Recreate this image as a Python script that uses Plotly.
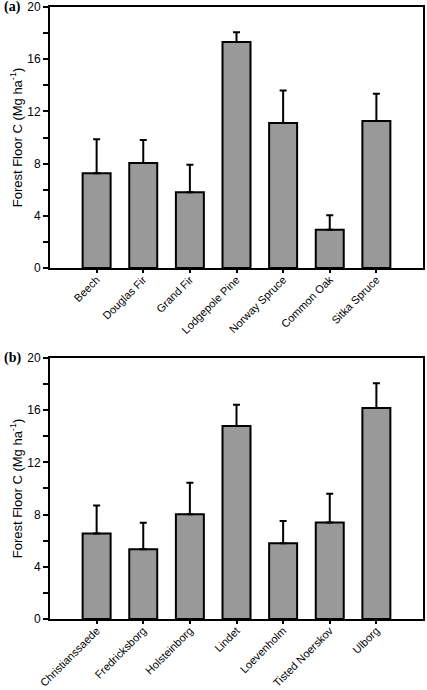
import plotly.graph_objects as go
from plotly.subplots import make_subplots

species = ["Beech", "Douglas Fir", "Grand Fir", "Lodgepole Pine", "Norway Spruce", "Common Oak", "Sitka Spruce"]
species_c = [7.26, 8.05, 5.80, 17.32, 11.11, 2.94, 11.26]
species_err = [2.60, 1.76, 2.12, 0.74, 2.49, 1.10, 2.10]

sites = ["Christianssaede", "Fredricksborg", "Holsteinborg", "Lindet", "Loevenholm", "Tisted Noerskov", "Ulborg"]
sites_c = [6.55, 5.35, 8.03, 14.79, 5.81, 7.39, 16.17]
sites_err = [2.15, 2.02, 2.41, 1.63, 1.69, 2.20, 1.89]

y_ticks = [0, 4, 8, 12, 16, 20]

fig = make_subplots(rows=2, cols=1, vertical_spacing=0.147)

def add_panel(cats, vals, errs, row):
    fig.add_trace(go.Bar(
        x=cats, y=vals, width=0.6,
        marker=dict(color="#999999", line=dict(color="black", width=2)),
        error_y=dict(type="data", array=errs, arrayminus=[0] * len(errs), symmetric=False,
                     color="black", thickness=2, width=3.5),
        showlegend=False,
    ), row=row, col=1)

add_panel(species, species_c, species_err, 1)
add_panel(sites, sites_c, sites_err, 2)

font = "Liberation Sans"
for r in (1, 2):
    fig.update_yaxes(range=[0, 20], tickvals=y_ticks, ticks="outside", ticklen=5, tickwidth=1.5,
                     tickcolor="black", showline=True, linewidth=2, linecolor="black", mirror=True,
                     showgrid=False, zeroline=False, automargin=False,
                     minor=dict(dtick=2, ticks="outside", ticklen=5, tickwidth=1.5, tickcolor="black", showgrid=False),
                     tickfont=dict(family=font, size=12, color="black"),
                     title=dict(text="Forest Floor C (Mg ha<sup>-1</sup>)", font=dict(family=font, size=13, color="black"), standoff=2),
                     row=r, col=1)
    fig.update_xaxes(range=[-1, 7], type="category", tickangle=-45, ticks="outside", ticklen=3, tickwidth=1.5,
                     tickcolor="black", showline=True, linewidth=2, linecolor="black", mirror=True,
                     ticklabelstandoff=-4, automargin=False,
                     showgrid=False, tickfont=dict(family=font, size=11, color="black"),
                     row=r, col=1)

fig.update_layout(
    width=427, height=690,
    margin=dict(l=50, r=4, t=7, b=71),
    plot_bgcolor="white", paper_bgcolor="white",
    yaxis=dict(domain=[0.5735, 1.0]),
    yaxis2=dict(domain=[0.0, 0.4265]),
    bargap=0.4,
)

serif = "Liberation Serif"
fig.add_annotation(text="<b>(a)</b>", x=-48 / 373, y=1.0, xref="paper", yref="paper", showarrow=False,
                   xanchor="left", yanchor="middle", font=dict(family=serif, size=14, color="black"))
fig.add_annotation(text="<b>(b)</b>", x=-48 / 373, y=0.4265, xref="paper", yref="paper", showarrow=False,
                   xanchor="left", yanchor="middle", font=dict(family=serif, size=14, color="black"))

fig.write_html("out.html", config={"displayModeBar": False},
               post_script="document.body.style.margin='0';document.body.style.overflow='hidden';")
